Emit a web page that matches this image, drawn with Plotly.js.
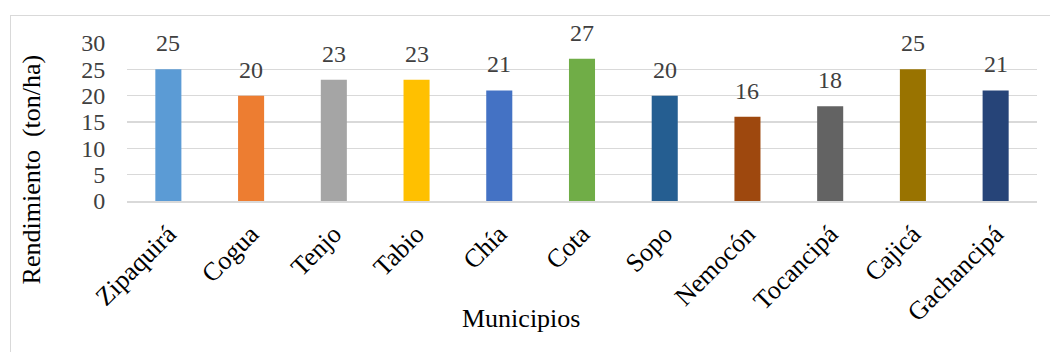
<!DOCTYPE html>
<html>
<head>
<meta charset="utf-8">
<script src="https://cdn.plot.ly/plotly-3.0.1.min.js"></script>
<style>
html,body{margin:0;padding:0;background:#fff;overflow:hidden;}
#frame{position:absolute;left:10px;top:15px;width:1100px;height:400px;border:1px solid #d9d9d9;box-sizing:border-box;}
#chart{position:absolute;left:0;top:0;width:1050px;height:352px;}
</style>
</head>
<body>
<div id="frame"></div>
<div id="chart"></div>
<script>
const municipios = ["Zipaquirá","Cogua","Tenjo","Tabio","Chía","Cota","Sopo","Nemocón","Tocancipá","Cajicá","Gachancipá"];
const rendimiento = [25,20,23,23,21,27,20,16,18,25,21];
const colores = ["#5B9BD5","#ED7D31","#A5A5A5","#FFC000","#4472C4","#70AD47","#255E91","#9E480E","#636363","#997300","#264478"];
const yTicks = [0,5,10,15,20,25,30];
const font = "Liberation Serif";

const trace = {
  type: "bar",
  x: municipios,
  y: rendimiento,
  marker: {color: colores},
  width: 0.315,
  cliponaxis: false,
  hoverinfo: "none"
};

const labelAnn = municipios.map((m, i) => ({
  x: m, y: rendimiento[i], xref: "x", yref: "y",
  text: String(rendimiento[i]), showarrow: false,
  xanchor: "center", yanchor: "bottom", yshift: 11,
  font: {family: font, size: 24, color: "#404040"}
}));

const layout = {
  width: 1050, height: 352,
  margin: {l: 127, r: 13, t: 43, b: 151},
  paper_bgcolor: "rgba(0,0,0,0)",
  plot_bgcolor: "rgba(0,0,0,0)",
  showlegend: false,
  font: {family: font, size: 24, color: "#000"},
  xaxis: {
    type: "category",
    tickangle: -45,
    tickfont: {family: font, size: 26, color: "#000"},
    showline: true, linecolor: "#d9d9d9", linewidth: 1.5,
    ticks: "outside", ticklen: 6, tickcolor: "rgba(0,0,0,0)", showgrid: false
  },
  yaxis: {
    range: [0, 30],
    tickvals: yTicks,
    ticktext: yTicks.map(String),
    tickfont: {family: font, size: 24, color: "#404040"},
    showgrid: true, gridcolor: "#d9d9d9", gridwidth: 1.3,
    zeroline: false, showline: false,
    ticks: "outside", ticklen: 16, tickcolor: "rgba(0,0,0,0)"
  },
  annotations: labelAnn.concat([
    {text: "Municipios", xref: "paper", yref: "paper", x: 0.433, y: -0.742,
     xanchor: "center", yanchor: "middle", showarrow: false,
     font: {family: font, size: 26, color: "#000"}},
    {text: "Rendimiento  (ton/ha)", xref: "paper", yref: "paper", x: -0.105, y: 0.203,
     xanchor: "center", yanchor: "middle", showarrow: false, textangle: -90,
     font: {family: font, size: 26, color: "#000"}}
  ])
};

Plotly.newPlot("chart", [trace], layout, {displayModeBar: false, staticPlot: true});
</script>
</body>
</html>
